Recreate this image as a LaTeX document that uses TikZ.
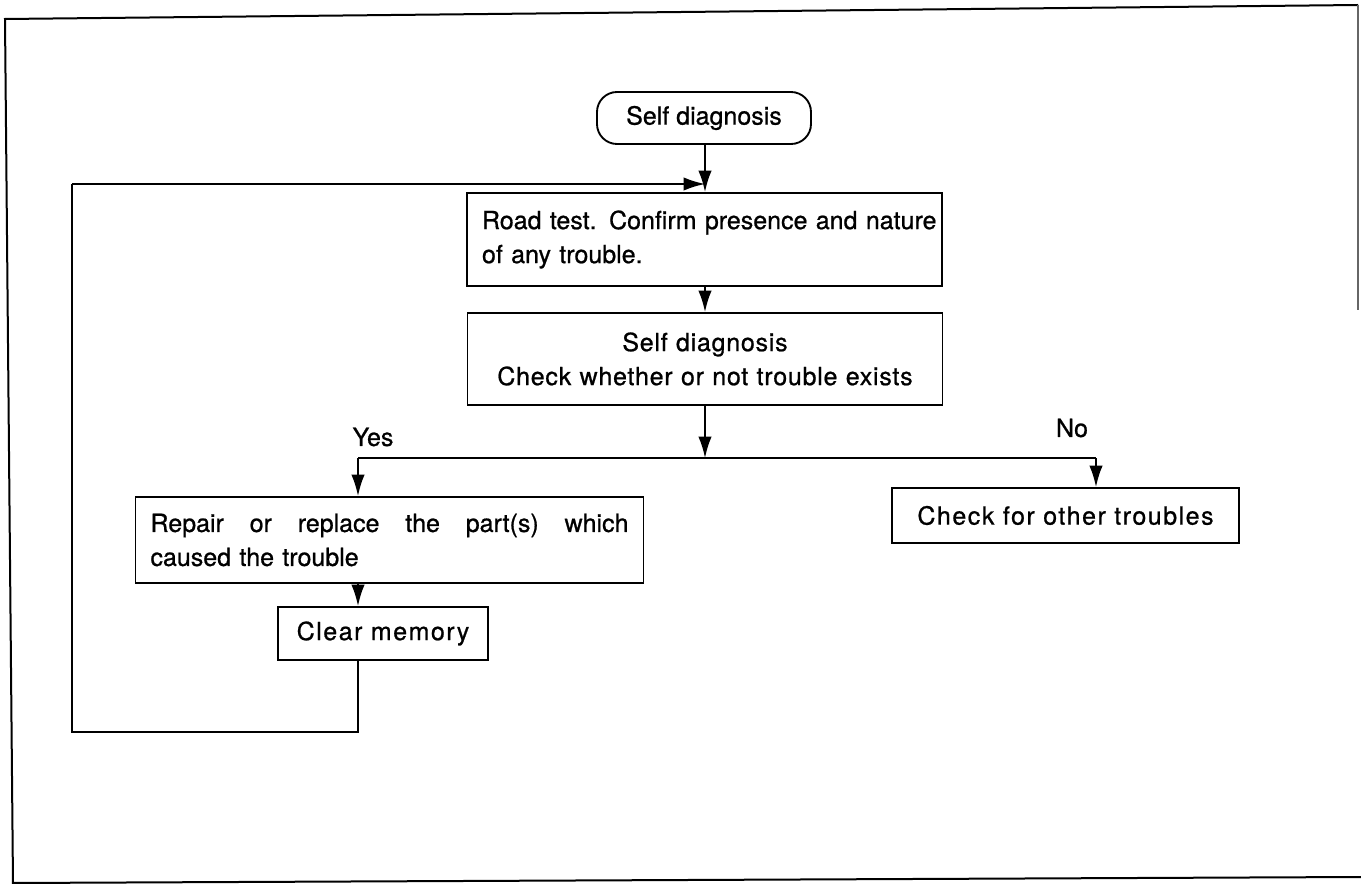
\documentclass[tikz,border=0pt]{standalone}
\usepackage{fontspec}
\setmainfont[FakeBold=0.8]{TeX Gyre Heros}
\usetikzlibrary{arrows.meta}
\begin{document}
\begin{tikzpicture}[x=0.75pt,y=-0.75pt,
  every node/.style={font=\fontsize{18.75}{25.5}\selectfont},
  box/.style={draw,line width=1.4pt,rectangle,inner xsep=11.25pt,inner ysep=0pt},
  term/.style={draw,line width=1.4pt,rounded corners=15pt,minimum width=160.5pt,minimum height=39pt},
  arr/.style={line width=1.4pt,-{Latex[length=16pt,width=10pt]}},
  conn/.style={line width=1.4pt},
  frame/.style={line width=1.5pt}]
\useasboundingbox (0,0) rectangle (1361,884);
% frame
\draw[frame] (13,884) -- (5,19) -- (1358,5);
\draw[line width=1pt,black!60] (1358,5) -- (1358,310);
\draw[frame] (13,883) -- (1361,877);
% nodes
\node[term] (start) at (704,118) {Self diagnosis};
\node[box,text width=333.75pt,minimum height=69.75pt,align=left] (road) at (704.5,239.5)
  {\mbox{Road test. Confirm presence and nature}\\of any trouble.};
\node[box,text width=333.75pt,minimum height=69pt,align=center] (diag) at (705,359)
  {\addfontfeatures{LetterSpace=3}Self diagnosis\\Check whether or not trouble exists};
\node[box,text width=358.5pt,minimum height=64.5pt,align=left] (repair) at (389.5,540)
  {Repair\hfill or\hfill replace\hfill the\hfill part(s)\hfill which\\caused the trouble};
\node[box,minimum width=157.5pt,minimum height=39.75pt] (clear) at (383,633.5)
  {\addfontfeatures{LetterSpace=6}Clear memory};
\node[box,minimum width=260.25pt,minimum height=41.25pt] (check) at (1065.5,515.5)
  {\addfontfeatures{LetterSpace=6}Check for other troubles};
\node (yes) at (373,437) {Yes};
\node (no) at (1072,428) {No};
% coordinates
\coordinate (j) at (705,458);
\coordinate (yb) at (358,458);
\coordinate (nb) at (1096,458);
\coordinate (lb) at (358,732);
\coordinate (ll) at (72,732);
\coordinate (lt) at (72,184);
\coordinate (fb) at (705,184);
% connectors
\draw[arr] (start.south -| fb) -- (fb |- road.north);
\draw[arr] (road.south -| fb) -- (fb |- diag.north);
\draw[arr] (diag.south -| j) -- (j);
\draw[conn] (yb) -- (nb);
\draw[arr] (yb) -- (yb |- repair.north);
\draw[arr] (nb) -- (nb |- check.north);
\draw[arr] (repair.south -| yb) -- (yb |- clear.north);
\draw[conn] (clear.south -| lb) -- (lb) -- (ll) -- (lt);
\draw[arr] (lt) -- (fb);
\end{tikzpicture}
\end{document}
